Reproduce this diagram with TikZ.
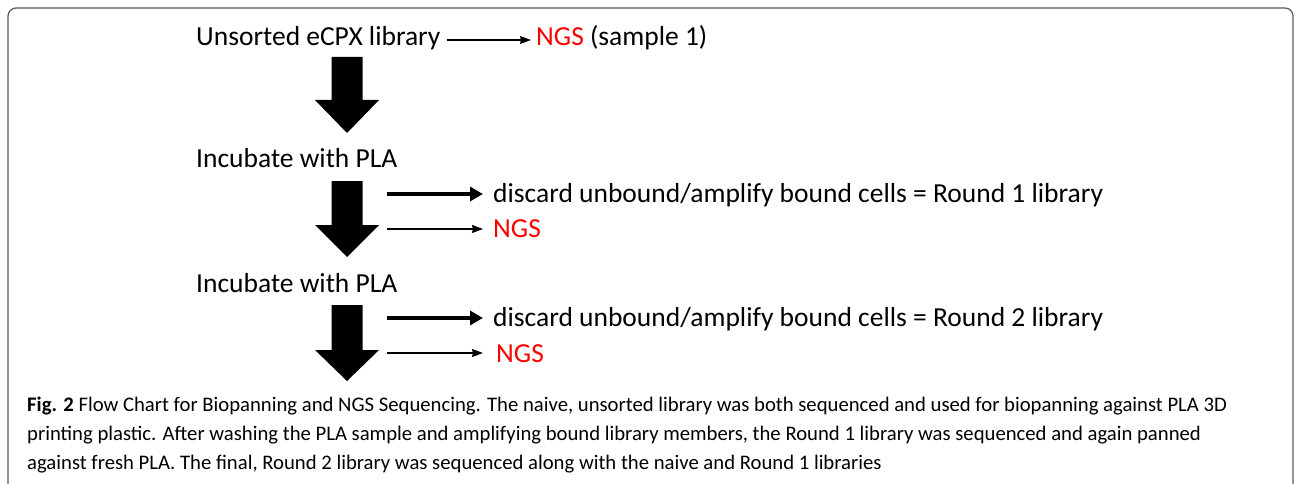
\documentclass[tikz,border=0pt]{standalone}
\usepackage{fontspec}
\setmainfont{Carlito}
\usetikzlibrary{arrows.meta,calc}
\definecolor{framegray}{HTML}{5A5A5A}
\definecolor{ngsred}{HTML}{FF0000}
\tikzset{
  steplabel/.style={anchor=west,inner sep=0pt,font=\fontsize{27.5}{32}\selectfont},
  redlabel/.style={steplabel,text=ngsred},
  caption/.style={anchor=west,inner sep=0pt,font=\fontsize{20.7}{24}\selectfont},
  thinarrow/.style={line width=1.3pt,-{Stealth[length=11pt,width=8pt,inset=1pt]}},
  thickarrow/.style={line width=4pt,-{Triangle[length=13pt,width=14pt]}},
  bigarrow/.style={fill=black}
}
% block arrow pointing down from #1 to #2, head starting at #3
\newcommand{\blockdown}[3]{%
  \fill[bigarrow] ($(#1)+(-15.5,0)$) -- ($(#3)+(-15.5,0)$) -- ($(#3)+(-32,0)$)
    -- (#2) -- ($(#3)+(32,0)$) -- ($(#3)+(15.5,0)$) -- ($(#1)+(15.5,0)$) -- cycle;}
\begin{document}
\begin{tikzpicture}[x=1pt,y=-1pt]
\useasboundingbox (0,0) rectangle (1295,484);
\draw[framegray,line width=1.2pt,rounded corners=8pt] (8,520) -- (8,8) -- (1293,8) -- (1293,520);

% flow steps
\node[steplabel] (u) at (196,38) {Unsorted eCPX library};
\node[steplabel] (n0) at (536,38) {\textcolor{ngsred}{NGS} (sample 1)};
\node[steplabel] (inc1) at (196,158) {Incubate with PLA};
\node[steplabel] (d1) at (493,195) {discard unbound/amplify bound cells = Round 1 library};
\node[redlabel] (n1) at (493,229) {NGS};
\node[steplabel] (inc2) at (196,283) {Incubate with PLA};
\node[steplabel] (d2) at (493,319) {discard unbound/amplify bound cells = Round 2 library};
\node[redlabel] (n2) at (496,354) {NGS};

% block arrows
\coordinate (b1s) at (347,57);  \coordinate (b1h) at (347,100); \coordinate (b1e) at (347,133);
\coordinate (b2s) at (347,181); \coordinate (b2h) at (347,225); \coordinate (b2e) at (347,257);
\coordinate (b3s) at (347,305); \coordinate (b3h) at (347,350); \coordinate (b3e) at (347,381);
\blockdown{b1s}{b1e}{b1h}
\blockdown{b2s}{b2e}{b2h}
\blockdown{b3s}{b3e}{b3h}

% side arrows
\draw[thinarrow] ($(u.east|-0,40)+(6,0)$) -- ($(n0.west|-0,40)+(-5,0)$);
\coordinate (t1) at (387,194);
\coordinate (t2) at (387,229);
\coordinate (t3) at (387,318);
\coordinate (t4) at (387,353);
\draw[thickarrow] (t1) -- ($(d1.west|-t1)+(-10,0)$);
\draw[thinarrow] (t2) -- ($(n1.west|-t2)+(-10,0)$);
\draw[thickarrow] (t3) -- ($(d2.west|-t3)+(-10,0)$);
\draw[thinarrow] (t4) -- ($(n2.west|-t4)+(-13,0)$);

% caption
\node[caption] (c1) at (27,406) {\textbf{Fig. 2} Flow Chart for Biopanning and NGS Sequencing. The naive, unsorted library was both sequenced and used for biopanning against PLA 3D};
\node[caption] (c2) at (27,435) {printing plastic. After washing the PLA sample and amplifying bound library members, the Round 1 library was sequenced and again panned};
\node[caption] (c3) at (27,464) {against fresh PLA. The final, Round 2 library was sequenced along with the naive and Round 1 libraries};
\end{tikzpicture}
\end{document}
